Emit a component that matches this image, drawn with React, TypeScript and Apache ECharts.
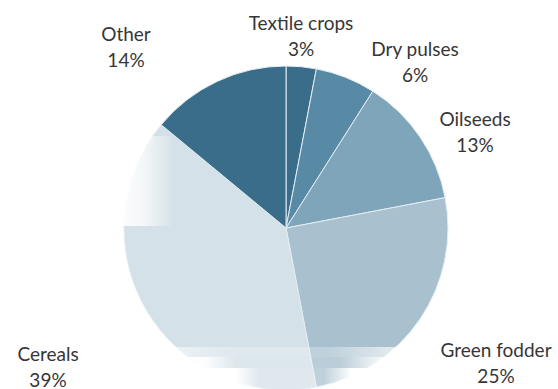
import React, { useEffect, useRef } from "react";
import * as echarts from "echarts";

const categories = ["Textile crops", "Dry pulses", "Oilseeds", "Green fodder", "Cereals", "Other"];
const shares = [3, 6, 13, 25, 39, 14];
const sliceColors = ["#3a6d8a", "#5889a5", "#7fa5ba", "#a9c1ce", "#d4e1e8", "#3a6d8a"];

// label placement (centre of each two-line label block)
const labelX = [301, 415, 475, 496, 48, 126];
const labelY = [35, 61, 131, 362, 366, 46];

function hGrad(stops: [number, number][]) {
  return new echarts.graphic.LinearGradient(
    0, 0, 1, 0,
    stops.map(([o, a]) => ({ offset: o, color: `rgba(255,255,255,${a})` }))
  );
}

export default function App() {
  const ref = useRef<HTMLDivElement>(null);
  useEffect(() => {
    if (!ref.current) return;
    const chart = echarts.init(ref.current, null, { renderer: "svg" });
    chart.setOption({
      animation: false,
      backgroundColor: "#ffffff",
      series: [
        {
          type: "pie",
          center: [286, 228],
          radius: 162,
          startAngle: 90,
          clockwise: true,
          avoidLabelOverlap: false,
          data: categories.map((name, i) => ({
            name,
            value: shares[i],
            itemStyle: { color: sliceColors[i] },
          })),
          itemStyle: { borderColor: "#e3edf2", borderWidth: 1 },
          label: {
            show: true,
            position: "outside",
            formatter: (p: any) => `${p.name}\n${p.value}%`,
            fontFamily: "Lato, 'Open Sans', sans-serif",
            fontSize: 19,
            lineHeight: 26,
            color: "#363636",
          },
          labelLine: { show: false },
          labelLayout: (p: any) => ({
            x: labelX[p.dataIndex],
            y: labelY[p.dataIndex],
            align: "center",
            verticalAlign: "middle",
          }),
        },
      ],
      graphic: [
        {
          type: "rect",
          z: 100,
          shape: { x: 112, y: 136, width: 62, height: 90 },
          style: { fill: hGrad([[0, 1], [0.5, 0.75], [1, 0]]) },
        },
        {
          type: "rect",
          z: 100,
          shape: { x: 166, y: 347, width: 232, height: 10 },
          style: { fill: hGrad([[0, 0.6], [0.3, 0.25], [0.7, 0.25], [1, 0.7]]) },
        },
        {
          type: "rect",
          z: 100,
          shape: { x: 166, y: 357, width: 232, height: 11 },
          style: { fill: hGrad([[0, 1], [0.17, 0.95], [0.3, 0.2], [0.75, 0.2], [0.95, 1], [1, 1]]) },
        },
        {
          type: "rect",
          z: 100,
          shape: { x: 166, y: 368, width: 232, height: 21 },
          style: { fill: hGrad([[0, 1], [0.3, 1], [0.4, 0.25], [0.68, 0.25], [0.8, 1], [1, 1]]) },
        },
      ],
    });
    return () => chart.dispose();
  }, []);
  return (
    <div
      ref={ref}
      style={{ position: "fixed", left: 0, top: 0, width: 558, height: 389 }}
    />
  );
}
